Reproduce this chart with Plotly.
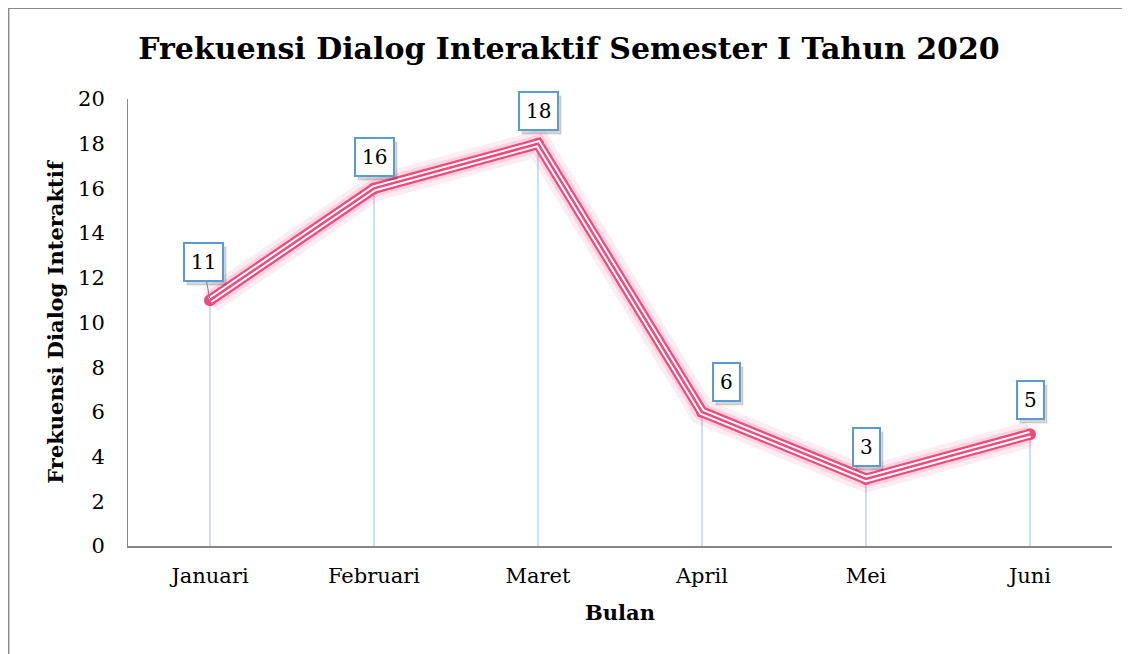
import plotly.graph_objects as go

months = ["Januari", "Februari", "Maret", "April", "Mei", "Juni"]
values = [11, 16, 18, 6, 3, 5]
y_ticks = [0, 2, 4, 6, 8, 10, 12, 14, 16, 18, 20]
label_dx = [-7, 0, 0, 24, 0, 0]
label_dy = [-38, -31, -33, -30, -32, -34]

PINK = "#F0497B"
SERIF = "DejaVu Serif"

fig = go.Figure()

# drop lines from each point to the axis
dx, dy = [], []
for m, v in zip(months, values):
    dx += [m, m, None]
    dy += [0, v, None]
fig.add_trace(go.Scatter(x=dx, y=dy, mode="lines",
                         line=dict(color="#C9DFF2", width=2),
                         hoverinfo="skip", showlegend=False))

# glow
fig.add_trace(go.Scatter(x=months, y=values, mode="lines",
                         line=dict(color="rgba(240,73,123,0.10)", width=26),
                         hoverinfo="skip", showlegend=False))
fig.add_trace(go.Scatter(x=months, y=values, mode="lines",
                         line=dict(color="rgba(240,73,123,0.16)", width=17),
                         hoverinfo="skip", showlegend=False))
# compound line
fig.add_trace(go.Scatter(x=months, y=values, mode="lines+markers",
                         line=dict(color=PINK, width=11),
                         marker=dict(color=PINK, size=12),
                         showlegend=False))
fig.add_trace(go.Scatter(x=months, y=values, mode="lines",
                         line=dict(color="white", width=6.5),
                         hoverinfo="skip", showlegend=False))
fig.add_trace(go.Scatter(x=months, y=values, mode="lines",
                         line=dict(color=PINK, width=2.5),
                         hoverinfo="skip", showlegend=False))

# data labels
for i, (m, v) in enumerate(zip(months, values)):
    n = len(str(v))
    # shadow box (no text)
    fig.add_annotation(x=m, y=v, ax=label_dx[i] + 3, ay=label_dy[i] + 4,
                       xref="x", yref="y", axref="pixel", ayref="pixel",
                       text="&nbsp;", showarrow=True, arrowcolor="rgba(0,0,0,0)",
                       width=12.7 * n, height=24,
                       font=dict(family=SERIF, size=20, color="rgba(0,0,0,0)"),
                       bgcolor="rgba(0,0,0,0.16)", borderpad=6, borderwidth=2,
                       bordercolor="rgba(0,0,0,0.06)")
    fig.add_annotation(x=m, y=v, ax=label_dx[i], ay=label_dy[i],
                       xref="x", yref="y", axref="pixel", ayref="pixel",
                       text=str(v), showarrow=True,
                       arrowcolor="#7F7F7F" if i == 0 else "rgba(0,0,0,0)",
                       arrowhead=0, arrowwidth=1, standoff=2,
                       font=dict(family=SERIF, size=20, color="black"),
                       bgcolor="white", bordercolor="#5B9BD5", borderwidth=2,
                       borderpad=6)

# chart border
fig.add_shape(type="rect", xref="paper", yref="paper",
              x0=-0.1215, x1=1.1, y0=-0.4, y1=1.2035,
              line=dict(color="#8C8C8C", width=2), layer="below")

fig.update_layout(
    width=1122, height=646,
    margin=dict(l=120, r=18, t=91, b=108),
    paper_bgcolor="white", plot_bgcolor="white",
    title=dict(text="<b>Frekuensi Dialog Interaktif Semester I Tahun 2020</b>",
               x=0.5, xanchor="center", y=0.938, yanchor="middle",
               font=dict(family=SERIF, size=30, color="black")),
    xaxis=dict(type="category", categoryorder="array", categoryarray=months,
               range=[-0.5, 5.5], showgrid=False, zeroline=False,
               showline=True, linecolor="#868686", linewidth=2,
               ticks="", ticklabelstandoff=10,
               tickfont=dict(family=SERIF, size=21, color="black"),
               title=dict(text="<b>Bulan</b>", standoff=18,
                          font=dict(family=SERIF, size=21, color="black"))),
    yaxis=dict(range=[0, 20], tickvals=y_ticks, showgrid=False, zeroline=False,
               showline=True, linecolor="#868686", linewidth=1,
               ticks="", ticklabelstandoff=18,
               tickfont=dict(family=SERIF, size=21, color="black"),
               title=dict(text="<b>Frekuensi Dialog Interaktif</b>", standoff=8,
                          font=dict(family=SERIF, size=21, color="black"))),
)

fig.write_html("out.html")
